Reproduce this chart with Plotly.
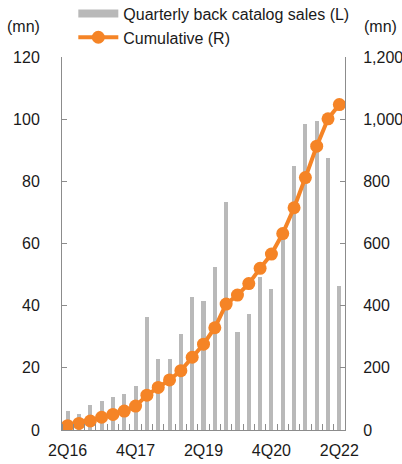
import plotly.graph_objects as go

# Quarterly back catalog sales (left axis, mn) and the running total (right axis, mn)
quarters = [
    "2Q16", "3Q16", "4Q16", "1Q17", "2Q17", "3Q17", "4Q17", "1Q18", "2Q18",
    "3Q18", "4Q18", "1Q19", "2Q19", "3Q19", "4Q19", "1Q20", "2Q20", "3Q20",
    "4Q20", "1Q21", "2Q21", "3Q21", "4Q21", "1Q22", "2Q22",
]
quarterly_sales = [6, 5, 8, 9.3, 10.5, 11.6, 14, 36.4, 23, 22.7, 31, 42.8, 41.6,
                   52.5, 73.4, 31.4, 37.3, 49.3, 45.5, 64, 85, 98.3, 99.5, 87.4, 46.3]
cumulative = [14, 21, 29, 41, 50, 61, 77, 112, 137, 161, 191, 234, 276, 329,
              405, 434, 471, 520, 566, 632, 715, 812, 913, 1001, 1047]
shown_labels = ["2Q16", "4Q17", "2Q19", "4Q20", "2Q22"]

left_ticks = [0, 20, 40, 60, 80, 100, 120]
right_ticks = [0, 200, 400, 600, 800, 1000, 1200]

GRAY = "#b9b9b9"
ORANGE = "#f58426"
AXIS = "#8c8c8c"
FONT = "Liberation Sans, Arial, sans-serif"

xpos = list(range(len(quarters)))
label_pos = [quarters.index(q) for q in shown_labels]

fig = go.Figure()

fig.add_trace(go.Bar(
    x=xpos, y=quarterly_sales, width=0.36, marker_color=GRAY,
    marker_line_width=0, showlegend=False, hovertext=quarters,
))
# legend entry for the bars, drawn as a wide gray swatch
fig.add_trace(go.Scatter(
    x=[None], y=[None], mode="lines", line=dict(color=GRAY, width=8),
    name="Quarterly back catalog sales (L)",
))
fig.add_trace(go.Scatter(
    x=xpos, y=cumulative, yaxis="y2", mode="lines+markers",
    line=dict(color=ORANGE, width=4),
    marker=dict(color=ORANGE, size=13),
    name="Cumulative (R)", hovertext=quarters,
))

fig.update_layout(
    width=402, height=464,
    margin=dict(l=62, r=57, t=57, b=34, autoexpand=False),
    paper_bgcolor="white", plot_bgcolor="white",
    font=dict(family=FONT, size=16, color="#1a1a1a"),
    bargap=0,
    legend=dict(
        x=0.04, y=1.162, xanchor="left", yanchor="top",
        bgcolor="rgba(0,0,0,0)", tracegroupgap=0, itemwidth=40,
        font=dict(size=16), traceorder="normal",
    ),
    xaxis=dict(
        range=[-0.5, len(quarters) - 0.5],
        tickvals=label_pos, ticktext=shown_labels, ticks="",
        showline=True, linecolor=AXIS, linewidth=1,
        showgrid=False, zeroline=False, automargin=False,
        minor=dict(tick0=0.5, dtick=1, ticks="inside", ticklen=6,
                   tickcolor=AXIS, showgrid=False),
        ticklabelstandoff=6,
    ),
    yaxis=dict(
        range=[0, 120], tickvals=left_ticks,
        ticks="inside", ticklen=5, tickcolor=AXIS,
        showline=True, linecolor=AXIS, linewidth=1, automargin=False,
        showgrid=False, zeroline=False, ticklabelstandoff=18,
    ),
    yaxis2=dict(
        range=[0, 1200], tickvals=right_ticks, overlaying="y", side="right",
        tickformat=",d",
        ticks="inside", ticklen=5, tickcolor=AXIS, automargin=False,
        showline=True, linecolor=AXIS, linewidth=1,
        showgrid=False, zeroline=False, ticklabelstandoff=14,
    ),
    annotations=[
        dict(text="(mn)", xref="paper", yref="paper", x=-0.2, y=1.083,
             xanchor="left", yanchor="middle", showarrow=False),
        dict(text="(mn)", xref="paper", yref="paper", x=1.19, y=1.083,
             xanchor="right", yanchor="middle", showarrow=False),
    ],
)

fig.write_html("out.html")
